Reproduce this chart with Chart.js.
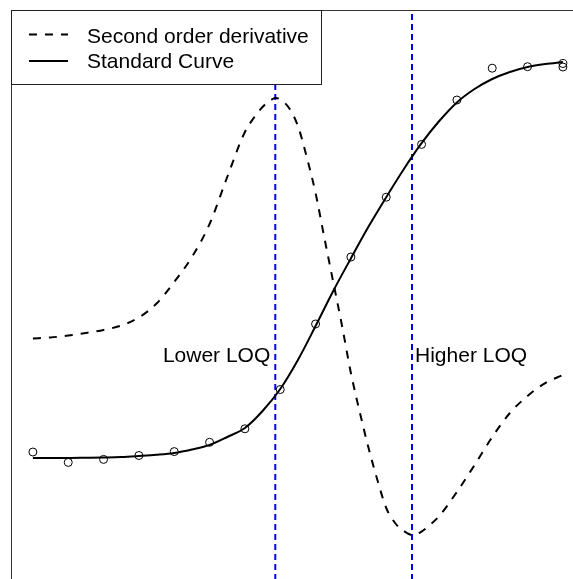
<!DOCTYPE html>
<html>
<head>
<meta charset="utf-8">
<script src="https://cdn.jsdelivr.net/npm/chart.js@4/dist/chart.umd.min.js"></script>
<style>
  html, body { margin: 0; padding: 0; overflow: hidden; background: #fff; }
  #chart { display: block; }
</style>
</head>
<body>
<canvas id="chart" width="600" height="620"></canvas>
<script>
// standards (dilution step -> measured signal), last step measured twice
const standardX = [1, 2, 3, 4, 5, 6, 7, 8, 9, 10, 11, 12, 13, 14, 15, 16, 16];
const standardY = [26.33, 24.6, 25.1, 25.75, 26.4, 27.95, 30.2, 36.75, 47.67, 58.83, 68.8, 77.6, 85.0, 90.3, 90.55, 91.08, 90.5];

// fitted standard curve
const curveX = [1, 1.5, 2, 2.5, 3, 3.5, 4, 4.5, 5, 5.5, 6, 6.5, 7, 7.5, 8, 8.5, 9, 9.5, 10, 10.5, 11, 11.5, 12, 12.5, 13, 13.5, 14, 14.5, 15, 15.5, 16];
const curveY = [25.33, 25.33, 25.33, 25.37, 25.42, 25.5, 25.67, 25.87, 26.17, 26.75, 27.5, 28.83, 30.33, 33.17, 36.83, 41.67, 47.33, 53.17, 58.6, 63.9, 68.8, 73.5, 77.8, 81.5, 84.6, 86.83, 88.5, 89.67, 90.5, 91.0, 91.33];

// second order derivative of the curve (rescaled)
const derivX = [1, 1.5, 2, 2.5, 3, 3.5, 4, 4.5, 5, 5.5, 6, 6.5, 7, 7.25, 7.5, 7.75, 7.875, 8, 8.25, 8.5, 8.75, 9, 9.25, 9.5, 9.75, 10, 10.25, 10.5, 10.75, 11, 11.25, 11.5, 11.75, 12, 12.25, 12.5, 13, 13.5, 14, 14.5, 15, 15.5, 16];
const derivY = [45.25, 45.42, 45.75, 46.17, 46.67, 47.42, 48.75, 51.08, 54.67, 58.83, 64.33, 72.17, 79.67, 82.0, 83.83, 85.08, 85.33, 85.08, 83.67, 80.67, 75.5, 69.5, 62.0, 54.67, 47.33, 39.5, 33.0, 27.0, 21.67, 17.0, 14.5, 13.17, 12.5, 13.08, 14.25, 15.67, 19.67, 24.17, 28.83, 32.83, 35.67, 37.83, 39.17];

const LOWER_LOQ = 7.86;
const HIGHER_LOQ = 11.73;
const Y_MIN = 0;
const Y_MAX = 100;
const LOQ_LABEL_Y = 41.3;

const FONT = '21px "Liberation Sans", Arial, Helvetica, sans-serif';

const toPoints = (xs, ys) => xs.map((x, i) => ({ x, y: ys[i] }));
const vline = (x) => [{ x, y: Y_MIN }, { x, y: Y_MAX }];

const frameAndLegend = {
  id: 'frameAndLegend',
  afterDatasetsDraw(chart) {
    const { ctx, chartArea: a, scales: { x, y } } = chart;
    ctx.save();

    // plot box
    ctx.strokeStyle = '#333';
    ctx.lineWidth = 1;
    ctx.strokeRect(a.left + 0.5, a.top + 0.5, a.right - a.left, a.bottom - a.top);

    // LOQ labels
    ctx.font = FONT;
    ctx.fillStyle = '#000';
    ctx.textBaseline = 'alphabetic';
    ctx.textAlign = 'right';
    ctx.fillText('Lower LOQ', x.getPixelForValue(LOWER_LOQ) - 5, y.getPixelForValue(LOQ_LABEL_Y));
    ctx.textAlign = 'left';
    ctx.fillText('Higher LOQ', x.getPixelForValue(HIGHER_LOQ) + 3, y.getPixelForValue(LOQ_LABEL_Y));

    // legend box
    const lx = a.left, ly = a.top;
    ctx.fillStyle = '#fff';
    ctx.fillRect(lx, ly, 310, 74);
    ctx.strokeStyle = '#222';
    ctx.strokeRect(lx + 0.5, ly + 0.5, 310, 74);

    ctx.strokeStyle = '#000';
    ctx.lineWidth = 2;
    ctx.setLineDash([8, 8]);
    ctx.beginPath();
    ctx.moveTo(lx + 18, ly + 24.5);
    ctx.lineTo(lx + 57, ly + 24.5);
    ctx.stroke();
    ctx.setLineDash([]);
    ctx.beginPath();
    ctx.moveTo(lx + 18, ly + 51);
    ctx.lineTo(lx + 57, ly + 51);
    ctx.stroke();

    ctx.fillStyle = '#000';
    ctx.textAlign = 'left';
    ctx.fillText('Second order derivative', lx + 76, ly + 33);
    ctx.fillText('Standard Curve', lx + 76, ly + 58);
    ctx.restore();
  },
};

new Chart(document.getElementById('chart'), {
  type: 'scatter',
  data: {
    datasets: [
      {
        label: 'Standards',
        data: toPoints(standardX, standardY),
        showLine: false,
        pointStyle: 'circle',
        pointRadius: 4,
        pointBorderWidth: 1,
        pointBorderColor: '#000',
        pointBackgroundColor: 'rgba(0,0,0,0)',
      },
      {
        label: 'Standard Curve',
        data: toPoints(curveX, curveY),
        showLine: true,
        borderColor: '#000',
        borderWidth: 2,
        pointRadius: 0,
        cubicInterpolationMode: 'monotone',
      },
      {
        label: 'Second order derivative',
        data: toPoints(derivX, derivY),
        showLine: true,
        borderColor: '#000',
        borderWidth: 2,
        borderDash: [8, 8],
        pointRadius: 0,
        cubicInterpolationMode: 'monotone',
      },
      {
        label: 'Lower LOQ',
        data: vline(LOWER_LOQ),
        showLine: true,
        borderColor: '#0000ff',
        borderWidth: 2,
        borderDash: [6, 4],
        pointRadius: 0,
      },
      {
        label: 'Higher LOQ',
        data: vline(HIGHER_LOQ),
        showLine: true,
        borderColor: '#0000ff',
        borderWidth: 2,
        borderDash: [6, 4],
        pointRadius: 0,
      },
    ],
  },
  options: {
    responsive: false,
    animation: false,
    layout: { padding: { left: 11, top: 10, right: 15.2, bottom: 10 } },
    plugins: { legend: { display: false }, tooltip: { enabled: false } },
    scales: {
      x: { type: 'linear', min: 0.38, max: 16.62, display: false },
      y: { type: 'linear', min: Y_MIN, max: Y_MAX, display: false },
    },
  },
  plugins: [frameAndLegend],
});
</script>
</body>
</html>
